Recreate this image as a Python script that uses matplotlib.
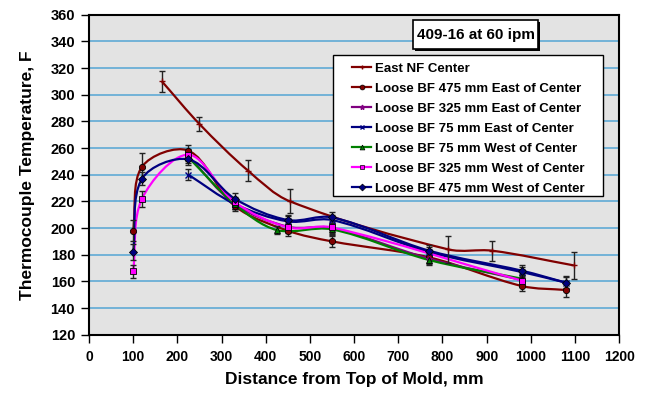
import matplotlib
matplotlib.use("Agg")
import matplotlib.pyplot as plt
from matplotlib.path import Path
from matplotlib.patches import PathPatch, Rectangle
from matplotlib.lines import Line2D

plt.rcParams['font.family'] = ['Liberation Sans', 'DejaVu Sans']
plt.rcParams['font.weight'] = 'bold'

# values (distance mm, temperature F, error +/-)
east_nf_x = [165, 250, 360, 455, 813, 913, 1097]
east_nf_y = [310, 278, 243, 220, 184, 183, 172]
east_nf_err = [8, 5, 8, 9, 10, 7.5, 10]

bf475e_x = [100, 120, 225, 330, 450, 550, 770, 980, 1080]
bf475e_y = [198, 246, 258, 216.5, 198, 190, 178, 156.5, 153.5]
bf475e_err = [8, 10, 4, 4, 4, 4, 4, 4, 5]

bf325e_x = [225, 330, 450, 550, 770, 980]
bf325e_y = [254, 218, 201, 200, 177, 161]
bf325e_err = [4, 4, 4, 4, 4, 4]

bf75e_x = [225, 330, 450, 550, 770, 980, 1080]
bf75e_y = [240, 218, 205, 206, 182, 167, 159]
bf75e_err = [4, 4, 4, 4, 4, 4, 4]

bf75w_x = [225, 330, 425, 550, 770, 980]
bf75w_y = [253, 218, 198.5, 199, 176, 162]
bf75w_err = [4, 4, 3, 4, 4, 4]

bf325w_x = [100, 120, 225, 330, 450, 550, 980]
bf325w_y = [167.5, 222, 255, 219.5, 200.5, 200.5, 160.5]
bf325w_err = [5, 6, 4, 4, 4, 5, 4]

bf475w_x = [100, 120, 225, 330, 450, 550, 770, 980, 1080]
bf475w_y = [182, 237, 251.5, 222, 206, 208, 183, 168, 159]
bf475w_err = [6, 5, 4, 4, 4, 4, 4, 4, 5]

series = [
    ("East NF Center", east_nf_x, east_nf_y, east_nf_err, "#800000", "+"),
    ("Loose BF 475 mm East of Center", bf475e_x, bf475e_y, bf475e_err, "#800000", "o"),
    ("Loose BF 325 mm East of Center", bf325e_x, bf325e_y, bf325e_err, "#800080", "*"),
    ("Loose BF 75 mm East of Center", bf75e_x, bf75e_y, bf75e_err, "#000080", "x"),
    ("Loose BF 75 mm West of Center", bf75w_x, bf75w_y, bf75w_err, "#008000", "^"),
    ("Loose BF 325 mm West of Center", bf325w_x, bf325w_y, bf325w_err, "#FF00FF", "s"),
    ("Loose BF 475 mm West of Center", bf475w_x, bf475w_y, bf475w_err, "#000080", "D"),
]

# rough pixel size of one data unit, used only to weight the smoothing
SX, SY = 0.442, 1.333


def smooth_path(xs, ys):
    # Excel-like smoothed line: cubic Bezier segments through the points
    pts = list(zip(xs, ys))
    n = len(pts)

    def dist(a, b):
        return (((b[0] - a[0]) * SX) ** 2 + ((b[1] - a[1]) * SY) ** 2) ** 0.5

    def tangent(i):
        p0 = pts[i - 1] if i > 0 else pts[i]
        p2 = pts[i + 1] if i < n - 1 else pts[i]
        d = dist(p0, pts[i]) + dist(pts[i], p2)
        return ((p2[0] - p0[0]) / d, (p2[1] - p0[1]) / d)

    verts = [pts[0]]
    codes = [Path.MOVETO]
    for i in range(n - 1):
        p1, p2 = pts[i], pts[i + 1]
        seg = dist(p1, p2) / 3
        t1, t2 = tangent(i), tangent(i + 1)
        c1 = (p1[0] + t1[0] * seg, p1[1] + t1[1] * seg)
        c2 = (p2[0] - t2[0] * seg, p2[1] - t2[1] * seg)
        verts += [c1, c2, p2]
        codes += [Path.CURVE4] * 3
    return Path(verts, codes)


fig = plt.figure(figsize=(6.45, 3.93), dpi=100)
ax = fig.add_axes([0.138, 0.1483, 0.822, 0.8143])
ax.set_facecolor("#E3E3E3")

ax.set_xlim(0, 1200)
ax.set_ylim(120, 360)
ax.set_xticks(range(0, 1201, 100))
ax.set_yticks(range(120, 361, 20))
ax.yaxis.grid(True, color="#6AAED6", linewidth=1.3)
ax.set_axisbelow(True)
for s in ax.spines.values():
    s.set_linewidth(1.5)
ax.tick_params(axis="both", direction="out", length=6, width=1)
ax.tick_params(axis="x", pad=5, labelsize=10)
ax.tick_params(axis="y", pad=4, labelsize=10.5)
for lab in ax.get_xticklabels() + ax.get_yticklabels():
    lab.set_fontweight("bold")

handles = []
for name, xs, ys, err, col, mk in series:
    solid = mk not in ("+", "x", "*")
    ax.add_patch(PathPatch(smooth_path(xs, ys), facecolor="none", edgecolor=col,
                           linewidth=1.6, zorder=3))
    ax.errorbar(xs, ys, yerr=err, fmt="none", ecolor="#222222", elinewidth=1,
                capsize=2.5, capthick=1, zorder=4)
    ax.plot(xs, ys, linestyle="none", marker=mk, color=col, markersize=4.5,
            markeredgecolor="black" if solid else col,
            markeredgewidth=0.6 if solid else 1.0, zorder=5)
    handles.append(Line2D([], [], color=col, linewidth=1.6, marker=mk, markersize=3.5,
                          markeredgecolor="black" if solid else col,
                          markeredgewidth=0.5 if solid else 1.0))

ax.set_xlabel("Distance from Top of Mold, mm", fontsize=12.5, fontweight="bold", labelpad=6)
ax.set_ylabel("Thermocouple Temperature, F", fontsize=12.5, fontweight="bold", labelpad=11)

# legend frame drawn separately so its side margins can be wider than the top one
ax.add_patch(Rectangle((0.4604, 0.4334), 0.5094, 0.4406, transform=ax.transAxes,
                       facecolor="white", edgecolor="black", linewidth=1.0, zorder=8))
leg = ax.legend(handles, [s[0] for s in series], loc="upper left",
                bbox_to_anchor=(0.496, 0.851), borderaxespad=0, borderpad=0,
                fontsize=9.5, frameon=False, handlelength=1.45,
                handletextpad=0.3, labelspacing=0.59)
leg.set_zorder(9)
for t in leg.get_texts():
    t.set_fontweight("bold")

# title box with a small drop shadow
ax.add_patch(Rectangle((0.615, 0.887), 0.236, 0.09, transform=ax.transAxes,
                       facecolor="black", edgecolor="none", zorder=9))
ax.add_patch(Rectangle((0.611, 0.893), 0.236, 0.09, transform=ax.transAxes,
                       facecolor="white", edgecolor="black", linewidth=1.2, zorder=10))
ax.text(0.729, 0.938, "409-16 at 60 ipm", transform=ax.transAxes, ha="center", va="center",
        fontsize=11, fontweight="bold", zorder=11)

fig.savefig("out.png", dpi=100)
